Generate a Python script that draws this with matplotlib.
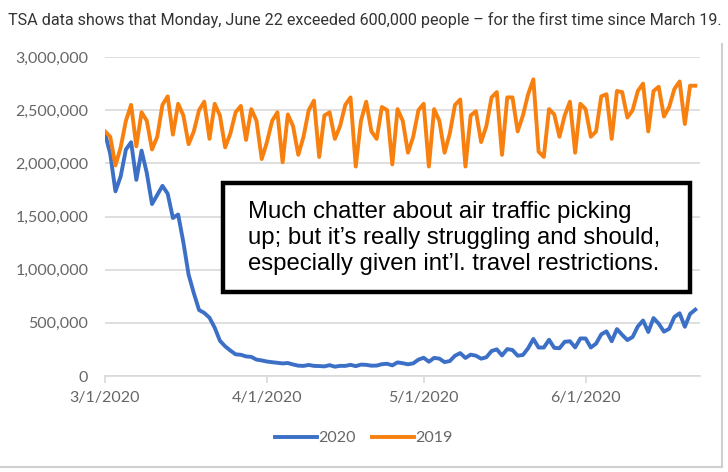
import matplotlib
matplotlib.use("Agg")
import matplotlib.pyplot as plt
import matplotlib.patches as mpatches
import numpy as np
import pandas as pd

# daily TSA checkpoint counts, 3/1/2020 .. 6/22/2020
dates = pd.date_range("2020-03-01", "2020-06-22", freq="D")

# 2020 (blue)
tsa_2020 = [
    2280522, 2089641, 1736393, 1877401, 2130015, 2198517, 1844811,
    2119867, 1909363, 1617220, 1702686, 1788456, 1714372, 1485553,
    1519192, 1257823, 953699, 779631, 620883, 593167, 548132,
    454516, 331431, 279018, 239234, 203858, 199644, 184027,
    180002, 154080, 146348, 136023, 129763, 124021, 118302,
    122029, 108310, 97130, 94931, 104090, 95085, 93645,
    90510, 102184, 87534, 95514, 95000, 105000, 93000,
    107000, 105000, 97000, 98000, 111000, 115000, 100000,
    128000, 120000, 110000, 119000, 154000, 171563, 134261,
    170254, 163692, 130601, 140409, 190863, 215444, 169580,
    200815, 191000, 163000, 176000, 234928, 250467, 193340,
    253190, 244176, 190577, 198000, 261170, 348673, 267451,
    267742, 340769, 264843, 261000, 321776, 327133, 268867,
    353261, 353016, 267742, 304436, 391882, 419675, 327000,
    441255, 387000, 338000, 367000, 466000, 522000, 414000,
    545000, 492000, 417000, 444000, 556000, 590000, 463000,
    584000, 624000,
]

# same weekday one year earlier (orange)
tsa_2019 = [
    2300000, 2250000, 1980000, 2150000, 2400000, 2550000, 2160000,
    2480000, 2400000, 2130000, 2250000, 2550000, 2630000, 2270000,
    2560000, 2450000, 2180000, 2300000, 2500000, 2580000, 2230000,
    2560000, 2450000, 2150000, 2280000, 2480000, 2540000, 2220000,
    2510000, 2400000, 2040000, 2200000, 2400000, 2480000, 2010000,
    2460000, 2350000, 2080000, 2250000, 2500000, 2590000, 2060000,
    2450000, 2480000, 2230000, 2350000, 2550000, 2620000, 1970000,
    2400000, 2580000, 2300000, 2230000, 2530000, 2500000, 1990000,
    2510000, 2400000, 2100000, 2250000, 2500000, 2560000, 1970000,
    2510000, 2400000, 2100000, 2280000, 2550000, 2600000, 1970000,
    2450000, 2490000, 2200000, 2350000, 2620000, 2670000, 2080000,
    2620000, 2620000, 2300000, 2450000, 2650000, 2790000, 2110000,
    2060000, 2510000, 2460000, 2250000, 2450000, 2580000, 2100000,
    2560000, 2510000, 2250000, 2300000, 2630000, 2650000, 2230000,
    2680000, 2670000, 2430000, 2500000, 2680000, 2750000, 2300000,
    2680000, 2720000, 2440000, 2530000, 2700000, 2770000, 2370000,
    2730000, 2730000,
]

month_ticks = pd.to_datetime(["2020-03-01", "2020-04-01", "2020-05-01", "2020-06-01"])
month_labels = ["3/1/2020", "4/1/2020", "5/1/2020", "6/1/2020"]
y_ticks = [0, 500000, 1000000, 1500000, 2000000, 2500000, 3000000]

title = ("TSA data shows that Monday, June 22 exceeded 600,000 people "
         "\u2013 for the first time since March 19.")
note = ("Much chatter about air traffic picking\n"
        "up; but it\u2019s really struggling and should,\n"
        "especially given int\u2019l. travel restrictions.")

blue = "#3C70C6"
orange = "#F8800F"
grid_c = "#D9D9D9"
lab_c = "#666666"

W, H = 728, 472
fig = plt.figure(figsize=(W / 100, H / 100), dpi=100)

def fx(px):
    return px / W

def fy(py):
    return 1 - py / H

ax = fig.add_axes([fx(105), fy(376), fx(700) - fx(105), fy(57) - fy(376)])

ax.plot(dates, tsa_2020, color=blue, lw=2.8, label="2020", solid_joinstyle="round")
ax.plot(dates, tsa_2019, color=orange, lw=2.8, label="2019", solid_joinstyle="round")

ax.set_ylim(0, 3000000)
ax.set_xlim(dates[0], dates[0] + pd.Timedelta(days=113.9))
ax.set_yticks(y_ticks)
ax.set_yticklabels([f"{v:,}" for v in y_ticks])
ax.set_xticks(month_ticks)
ax.set_xticklabels(month_labels)

ax.grid(axis="y", color=grid_c, lw=1.2)
ax.set_axisbelow(True)
for s in ["top", "right", "left"]:
    ax.spines[s].set_visible(False)
ax.spines["bottom"].set_color(grid_c)
ax.spines["bottom"].set_linewidth(1.2)
ax.tick_params(axis="y", length=0, pad=12, labelsize=11.5, labelcolor=lab_c)
ax.tick_params(axis="x", length=5, width=1.2, color=grid_c, pad=6,
               labelsize=11.5, labelcolor=lab_c)
for t in ax.get_xticklabels() + ax.get_yticklabels():
    t.set_fontfamily("Lato")

leg = fig.legend(loc="center", bbox_to_anchor=(fx(364), fy(438)), ncol=2,
                 frameon=False, prop={"family": "Lato", "size": 11.5},
                 handlelength=2.6, handletextpad=0.1, columnspacing=1.0)
for t in leg.get_texts():
    t.set_color(lab_c)

fig.text(fx(8), fy(20), title, ha="left", va="center", fontsize=11.6,
         family="Roboto", color="#333333")

# panel frame (right and bottom edge)
fig.add_artist(plt.Line2D([fx(722), fx(722)], [fy(44), fy(467)], color="#D0D0D0", lw=1.5))
fig.add_artist(plt.Line2D([0, fx(722)], [fy(467), fy(467)], color="#D0D0D0", lw=1.5))

# annotation box
box = mpatches.Rectangle((fx(223), fy(292)), fx(690) - fx(223), fy(183) - fy(292),
                         transform=fig.transFigure, facecolor="white",
                         edgecolor="black", lw=3.2, zorder=5)
fig.add_artist(box)
fig.text(fx(248), fy(238), note, ha="left", va="center", fontsize=17.2,
         family="Liberation Sans", color="black", linespacing=1.24, zorder=6)

fig.savefig("out.png", dpi=100)
